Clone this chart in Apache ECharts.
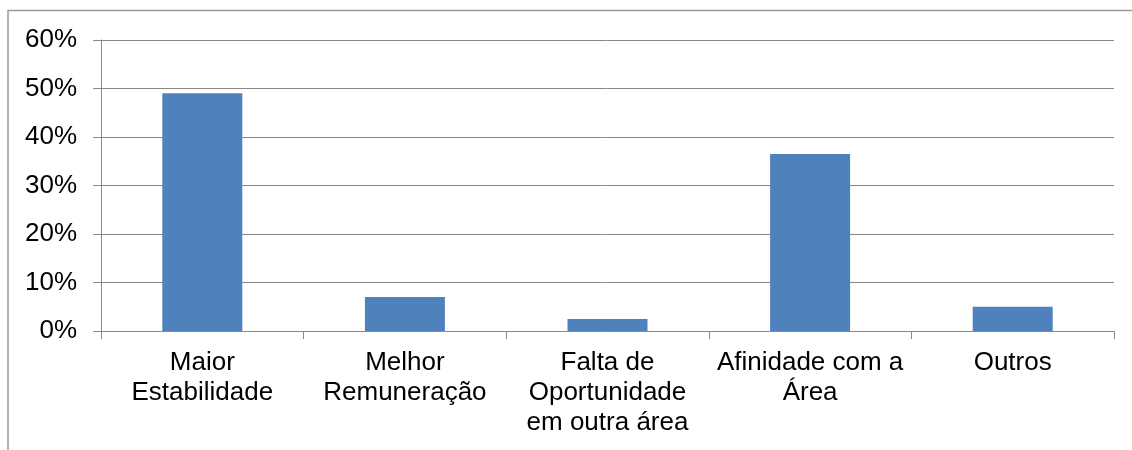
<!DOCTYPE html>
<html lang="pt">
<head>
    <meta charset="UTF-8">
    <title>Motivos</title>
    <script src="https://cdn.jsdelivr.net/npm/echarts/dist/echarts.min.js"></script>
    <style>
        body { margin: 0; background: #fff; }
        #main { width: 1132px; height: 450px; }
    </style>
</head>
<body>
    <div id="main"></div>
    <script>
        // categorias e valores (%)
        const categories = [
            'Maior\nEstabilidade',
            'Melhor\nRemuneração',
            'Falta de\nOportunidade\nem outra área',
            'Afinidade com a\nÁrea',
            'Outros'
        ];
        const values = [49, 7, 2.5, 36.5, 5];
        const yTicks = [0, 10, 20, 30, 40, 50, 60];

        var chart = echarts.init(document.getElementById('main'));
        var lineColor = '#898989';

        var option = {
            backgroundColor: '#fff',
            animation: false,
            textStyle: { fontFamily: 'Liberation Sans, Arial, sans-serif' },
            graphic: [{
                type: 'polyline',
                shape: { points: [[8, 450], [8, 10.5], [1132, 10.5]] },
                style: { stroke: '#9a9a9a', lineWidth: 1.5, fill: null }
            }],
            grid: { left: 101, right: 18, top: 40, bottom: 119 },
            xAxis: {
                type: 'category',
                data: categories,
                axisLine: { lineStyle: { color: lineColor, width: 1 } },
                axisTick: { show: true, length: 8, lineStyle: { color: lineColor } },
                axisLabel: {
                    color: '#000', fontSize: 26, lineHeight: 30, margin: 17,
                    interval: 0
                }
            },
            yAxis: {
                type: 'value',
                min: yTicks[0],
                max: yTicks[yTicks.length - 1],
                interval: 10,
                axisLine: { show: true, lineStyle: { color: lineColor, width: 1 } },
                axisTick: { show: true, length: 8, lineStyle: { color: lineColor } },
                splitLine: { lineStyle: { color: lineColor, width: 1 } },
                axisLabel: {
                    color: '#000', fontSize: 26, margin: 24,
                    formatter: '{value}%'
                }
            },
            series: [{
                type: 'bar',
                data: values,
                barWidth: 80,
                itemStyle: { color: '#4f81bd' }
            }]
        };

        chart.setOption(option);
    </script>
</body>
</html>
